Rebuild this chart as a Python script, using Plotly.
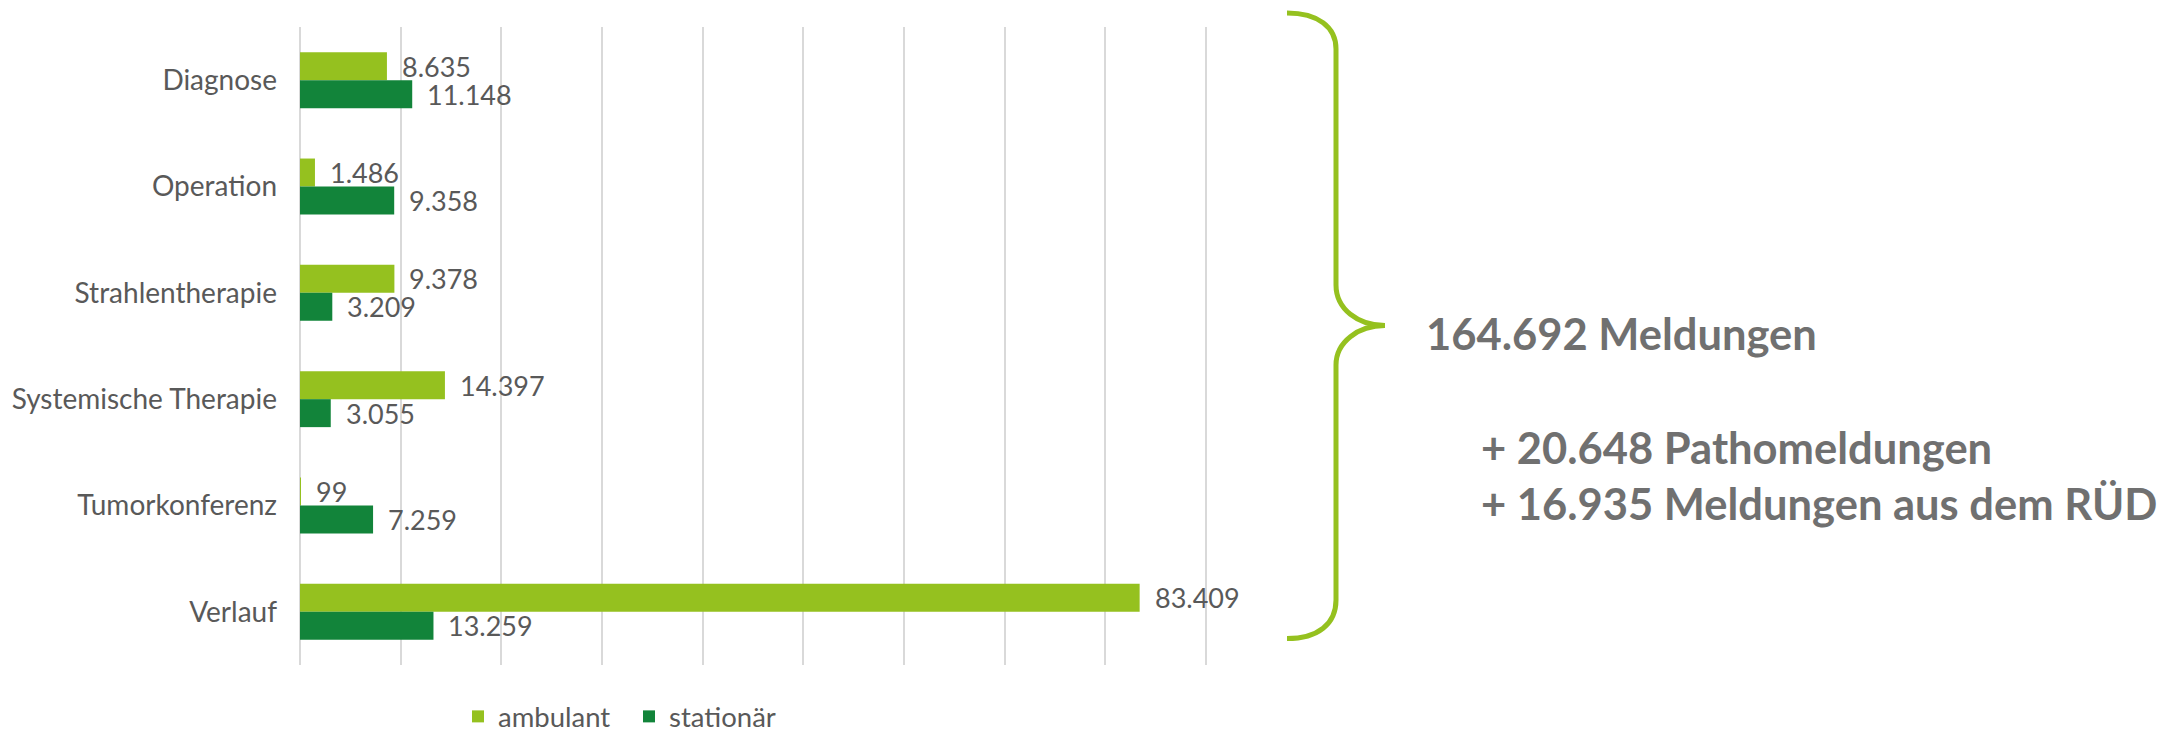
import plotly.graph_objects as go

# Meldungen nach Meldeanlass, getrennt nach ambulant / stationär
categories = ["Diagnose", "Operation", "Strahlentherapie",
              "Systemische Therapie", "Tumorkonferenz", "Verlauf"]
ambulant = [8635, 1486, 9378, 14397, 99, 83409]
stationaer = [11148, 9358, 3209, 3055, 7259, 13259]
series_names = ["ambulant", "stationär"]
patho_meldungen = 20648
rued_meldungen = 16935
x_ticks = [0, 10000, 20000, 30000, 40000, 50000, 60000, 70000, 80000, 90000]
x_max = 90100

W, H = 2177, 734
# plot area in pixels
PL, PR, PT, PB = 300, 1207, 27, 665

LIGHT = "#95C11F"
DARK = "#12843A"
LABEL_GREY = "#595959"
TEXT_GREY = "#707070"
FONT = "Lato, Carlito, sans-serif"


def fx(px):
    return (px - PL) / (PR - PL)


def fy(py):
    return (PB - py) / (PB - PT)


def de(n):
    return f"{n:,}".replace(",", ".")


total = sum(ambulant) + sum(stationaer)

fig = go.Figure()
fig.add_trace(go.Bar(y=categories, x=ambulant, orientation="h", name=series_names[0],
                     marker=dict(color=LIGHT, line=dict(width=0)), hoverinfo="x+name"))
fig.add_trace(go.Bar(y=categories, x=stationaer, orientation="h", name=series_names[1],
                     marker=dict(color=DARK, line=dict(width=0)), hoverinfo="x+name"))

value_font = dict(family=FONT, size=27, color=LABEL_GREY)
annotations = []
for cat, a, s in zip(categories, ambulant, stationaer):
    for val, shift in ((a, 14), (s, -14)):
        annotations.append(dict(x=val, y=cat, xref="x", yref="y", text=de(val),
                                showarrow=False, xanchor="left", yanchor="middle",
                                xshift=13, yshift=shift, font=value_font))

big_font = dict(family=FONT, size=43.5, color=TEXT_GREY, weight="bold")
annotations.append(dict(x=fx(1424), y=fy(333), xref="paper", yref="paper",
                        text=f"{de(total)} Meldungen", showarrow=False,
                        xanchor="left", yanchor="middle", font=big_font))
annotations.append(dict(x=fx(1479), y=fy(447), xref="paper", yref="paper",
                        text=f"+ {de(patho_meldungen)} Pathomeldungen", showarrow=False,
                        xanchor="left", yanchor="middle", font=big_font))
annotations.append(dict(x=fx(1479), y=fy(503), xref="paper", yref="paper",
                        text=f"+ {de(rued_meldungen)} Meldungen aus dem RÜD", showarrow=False,
                        xanchor="left", yanchor="middle", font=big_font))

# curly brace grouping the whole chart
brace = [("M", [(1287, 13)]),
         ("C", [(1318, 13), (1336, 27), (1336, 49)]),
         ("L", [(1336, 285)]),
         ("C", [(1336, 309), (1358, 325.6), (1385, 325.6)]),
         ("C", [(1358, 325.6), (1336, 342), (1336, 365)]),
         ("L", [(1336, 600)]),
         ("C", [(1336, 624), (1318, 638.6), (1287, 638.6)])]
path = " ".join(cmd + " " + " ".join(f"{fx(x):.5f},{fy(y):.5f}" for x, y in pts)
                for cmd, pts in brace)

fig.update_layout(
    width=W, height=H,
    margin=dict(l=PL, r=W - PR, t=PT, b=H - PB, pad=0, autoexpand=False),
    plot_bgcolor="white", paper_bgcolor="white",
    barmode="group", bargap=0.474, bargroupgap=0,
    font=dict(family=FONT, color=LABEL_GREY),
    showlegend=True,
    legend=dict(orientation="h", x=fx(458), y=fy(716.5), xanchor="left", yanchor="middle",
                font=dict(family=FONT, size=27.5, color=LABEL_GREY),
                entrywidth=126, entrywidthmode="pixels",
                traceorder="normal", bgcolor="rgba(0,0,0,0)"),
    annotations=annotations,
    shapes=[dict(type="path", path=path, xref="paper", yref="paper",
                 line=dict(color=LIGHT, width=5))],
)
fig.update_xaxes(range=[0, x_max], tickvals=x_ticks, showticklabels=False,
                 showgrid=True, gridcolor="#D9D9D9", gridwidth=1.5,
                 zeroline=True, zerolinecolor="#D9D9D9", zerolinewidth=1.5,
                 showline=False, ticks="")
fig.update_yaxes(autorange="reversed", showgrid=False, showline=False, ticks="",
                 tickfont=dict(family=FONT, size=28, color=LABEL_GREY),
                 ticklabelstandoff=22)

fig.write_html("out.html")
